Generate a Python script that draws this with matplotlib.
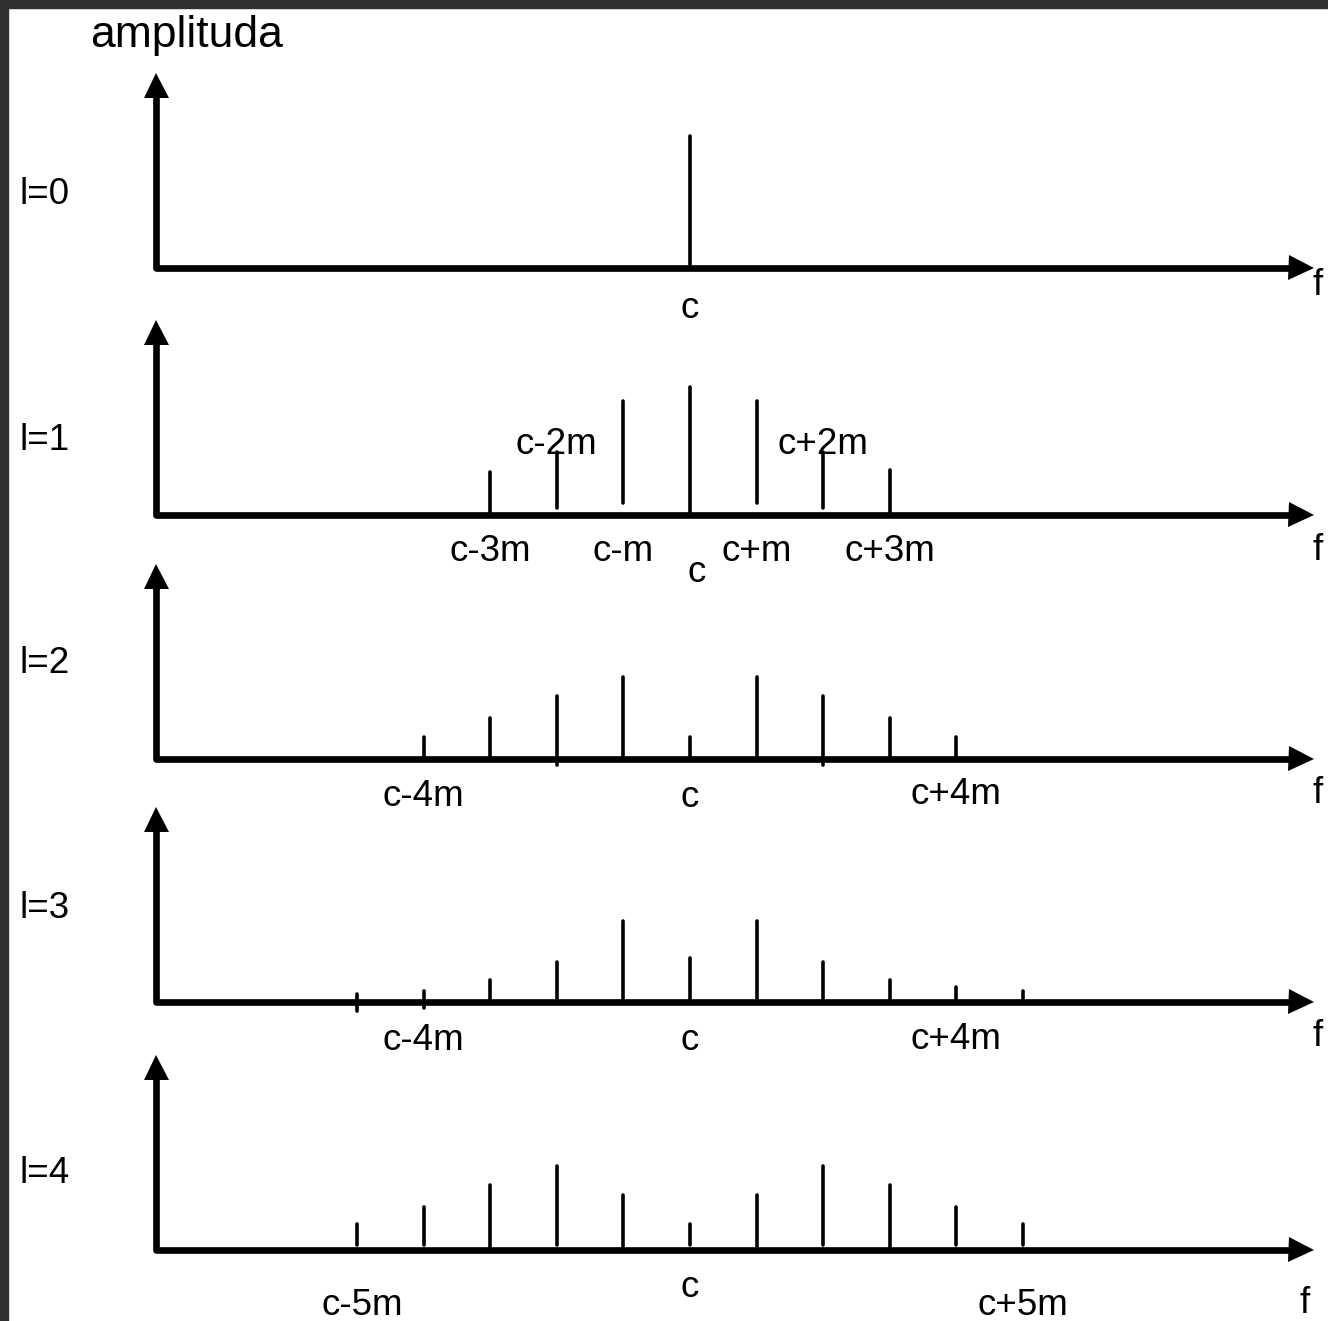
import matplotlib
matplotlib.use("Agg")
import matplotlib.pyplot as plt
from matplotlib.patches import Rectangle

plt.rcParams['font.family'] = ['Liberation Sans', 'DejaVu Sans']

W, H = 1328, 1321
C_PX = 690.0      # x pixel of the carrier c
M_PX = 66.6       # pixels for one m

# spectral lines of each panel: offset from c (units of m), top and bottom of the line
# (pixels above the frequency axis)
l0_k = [0]
l0_top = [132]
l0_bot = [0]

l1_k = [-3, -2, -1, 0, 1, 2, 3]
l1_top = [43, 63, 114, 128, 114, 63, 45]
l1_bot = [0, 7, 12, 0, 12, 7, 0]

l2_k = [-4, -3, -2, -1, 0, 1, 2, 3, 4]
l2_top = [22, 41, 63, 82, 22, 82, 63, 41, 22]
l2_bot = [0, 0, -6, 0, 0, 0, -6, 0, 0]

l3_k = [-5, -4, -3, -2, -1, 0, 1, 2, 3, 4, 5]
l3_top = [8, 11, 22, 40, 81, 44, 81, 40, 22, 15, 11]
l3_bot = [-9, -6, 0, 0, 0, 0, 0, 0, 0, 0, 0]

l4_k = [-5, -4, -3, -2, -1, 0, 1, 2, 3, 4, 5]
l4_top = [26, 43, 65, 84, 55, 26, 55, 84, 65, 43, 26]
l4_bot = [5, 5, 2, 5, 2, 5, 2, 5, 2, 5, 5]

panel_names = ["l=0", "l=1", "l=2", "l=3", "l=4"]

# text under / above each axis: (text, offset in m, height above the axis)
l0_labels = [("c", 0, -50), ("f", 9.43, -27)]
l1_labels = [("c-3m", -3, -46), ("c-m", -1, -46), ("c+m", 1, -46), ("c+3m", 3, -46),
             ("c", 0.1, -67), ("c-2m", -2, 61), ("c+2m", 2, 61), ("f", 9.43, -45)]
l2_labels = [("c-4m", -4, -47), ("c", 0, -48), ("c+4m", 4, -45), ("f", 9.43, -44)]
l3_labels = [("c-4m", -4, -48), ("c", 0, -48), ("c+4m", 4, -47), ("f", 9.43, -44)]
l4_labels = [("c-5m", -4.92, -65), ("c", 0, -47), ("c+5m", 5, -65), ("f", 9.23, -63)]

panels = [
    (l0_k, l0_top, l0_bot, l0_labels),
    (l1_k, l1_top, l1_bot, l1_labels),
    (l2_k, l2_top, l2_bot, l2_labels),
    (l3_k, l3_top, l3_bot, l3_labels),
    (l4_k, l4_top, l4_bot, l4_labels),
]

# layout (pixels from the top of the picture)
axis_y = [268, 515, 759, 1002, 1250]
name_y = [204, 450, 673, 918, 1183]
AXIS_LEFT = (156 - C_PX) / M_PX
AXIS_RIGHT = (1313 - C_PX) / M_PX
AXIS_TOP = 196
HEAD = 25  # arrow head size in px
FS = 26.5

fig = plt.figure(figsize=(W / 100, H / 100), dpi=100)
fig.patch.set_facecolor("white")

for i, (k, top, bot, labels) in enumerate(panels):
    y0 = axis_y[i]
    ax = fig.add_axes([0, (H - (y0 + 80)) / H, 1, 340 / H])
    ax.set_xlim(-C_PX / M_PX, (W - C_PX) / M_PX)
    ax.set_ylim(-80, 260)
    ax.axis("off")
    ax.patch.set_alpha(0)

    # axes with arrow heads
    ax.plot([AXIS_LEFT, AXIS_LEFT, AXIS_RIGHT - HEAD / 2 / M_PX], [AXIS_TOP - HEAD / 2, 0, 0],
            color="black", lw=4.8, solid_joinstyle="round", solid_capstyle="butt")
    ax.plot(AXIS_LEFT, AXIS_TOP - HEAD / 2, marker="^", ms=HEAD * 0.72, color="black", mew=0)
    ax.plot(AXIS_RIGHT - HEAD / 2 / M_PX, 0, marker=">", ms=HEAD * 0.72, color="black", mew=0)

    # spectral lines
    lc = ax.vlines(k, bot, top, color="black", lw=2.6)
    lc.set_capstyle("round")

    for txt, x, y in labels:
        ax.text(x, y, txt, ha="center", va="baseline", fontsize=FS, color="black")

    fig.text(19 / W, 1 - name_y[i] / H, panel_names[i], ha="left", va="baseline",
             fontsize=FS, color="black")

fig.text(90 / W, 1 - 47 / H, "amplituda", ha="left", va="baseline", fontsize=32, color="black")

# dark frame on the left and top edge
fig.patches.append(Rectangle((0, 0), 8 / W, 1, transform=fig.transFigure,
                             color="#303030", zorder=10))
fig.patches.append(Rectangle((0, 1 - 8 / H), 1, 8 / H, transform=fig.transFigure,
                             color="#303030", zorder=10))

fig.savefig("out.png", dpi=100)
